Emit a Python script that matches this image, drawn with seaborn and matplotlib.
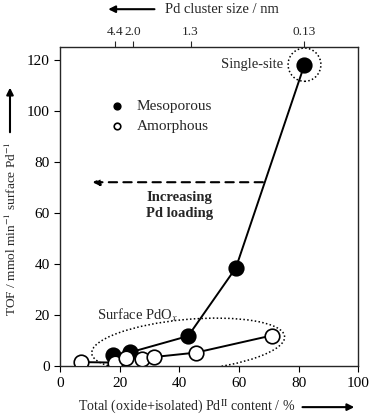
import numpy as np
import pandas as pd
import matplotlib
matplotlib.use("Agg")
import matplotlib.pyplot as plt
from matplotlib.patches import Ellipse
import seaborn as sns

# mesoporous samples
meso_x = [17.7, 23.5, 43, 59, 82]
meso_y = [4.3, 5.4, 11.8, 38.5, 118]
# amorphous samples
amor_x = [7, 18.5, 22, 27.6, 31.7, 45.6, 71]
amor_y = [1.6, 1.4, 3.3, 3.0, 3.6, 5.3, 12]
# top axis: cluster size
size_pos = [18.5, 24.5, 43.8, 82]
size_labels = ["4.4", "2.0", "1.3", "0.13"]

sns.set_style("ticks")
plt.rcParams['font.family'] = ['Liberation Serif', 'DejaVu Serif']
plt.rcParams['mathtext.fontset'] = 'stix'
plt.rcParams['font.size'] = 10

meso = pd.DataFrame({"x": meso_x, "y": meso_y})
amor = pd.DataFrame({"x": amor_x, "y": amor_y})

fig = plt.figure(figsize=(3.7, 4.18), dpi=100)
ax = fig.add_axes([0.162, 0.124, 0.806, 0.764])

sns.lineplot(data=meso, x="x", y="y", ax=ax, color="black", lw=1.4, sort=False, zorder=2)
sns.lineplot(data=amor, x="x", y="y", ax=ax, color="black", lw=1.4, sort=False, zorder=2)
sns.scatterplot(data=meso, x="x", y="y", ax=ax, s=110, color="black", edgecolor="black",
                linewidth=1.2, label="Mesoporous", zorder=3)
sns.scatterplot(data=amor, x="x", y="y", ax=ax, s=110, color="white", edgecolor="black",
                linewidth=1.2, label="Amorphous", zorder=3)

ax.set_xlim(0, 100)
ax.set_ylim(0, 125)
ax.set_xticks([0, 20, 40, 60, 80, 100])
ax.set_yticks([0, 20, 40, 60, 80, 100, 120])
ax.set_xlabel("")
ax.set_ylabel("")
ax.tick_params(direction="out", length=4, width=0.8, labelsize=11, colors="black")
for sp in ax.spines.values():
    sp.set_linewidth(0.9)
    sp.set_color("black")

leg = ax.legend(loc="upper left", bbox_to_anchor=(0.12, 0.855), frameon=False,
                markerscale=0.45, handletextpad=0.3, labelspacing=0.4, fontsize=11,
                borderaxespad=0)

# top axis
top = ax.twiny()
top.set_xlim(ax.get_xlim())
top.set_xticks(size_pos)
top.set_xticklabels(size_labels)
top.tick_params(direction="out", length=4, width=0.8, labelsize=9.5, pad=2)

# annotations
ax.text(74.8, 118, "Single-site", ha="right", va="center", fontsize=10.5)
ax.add_patch(Ellipse((82, 118), 11, 13, fill=False, ls=(0, (1, 1.5)), lw=1.1, color="black"))
ax.add_patch(Ellipse((43, 8.3), 65, 20, angle=6, fill=False, ls=(0, (1, 1.5)), lw=1.1, color="black"))
ax.text(12.5, 20, "Surface PdO$_x$", ha="left", va="center", fontsize=10.5)
ax.annotate("", xy=(10, 72), xytext=(69, 72),
            arrowprops=dict(arrowstyle="-|>", ls=(0, (4, 3)), lw=1.5, color="black",
                            mutation_scale=10))
ax.text(40, 63, "Increasing\nPd loading", ha="center", va="center", fontsize=10.5,
        fontweight="bold", linespacing=1.3)

# axis labels with arrows
fig.text(0.03, 0.452, "TOF / mmol min$^{-1}$ surface Pd$^{-1}$", rotation=90,
         ha="center", va="center", fontsize=9.6)
ax.annotate("", xy=(0.027, 0.797), xytext=(0.027, 0.677), xycoords="figure fraction",
            textcoords="figure fraction",
            arrowprops=dict(arrowstyle="-|>", lw=1.5, color="black", mutation_scale=10))
fig.text(0.505, 0.026, "Total (oxide+isolated) Pd$^{\\rm II}$ content / %", ha="center",
         va="center", fontsize=10)
ax.annotate("", xy=(0.965, 0.026), xytext=(0.81, 0.026), xycoords="figure fraction",
            textcoords="figure fraction",
            arrowprops=dict(arrowstyle="-|>", lw=1.5, color="black", mutation_scale=10))
fig.text(0.445, 0.978, "Pd cluster size / nm", ha="left", va="center", fontsize=10.5)
ax.annotate("", xy=(0.285, 0.978), xytext=(0.425, 0.978), xycoords="figure fraction",
            textcoords="figure fraction",
            arrowprops=dict(arrowstyle="-|>", lw=1.5, color="black", mutation_scale=10))

fig.savefig("out.png", dpi=100)
